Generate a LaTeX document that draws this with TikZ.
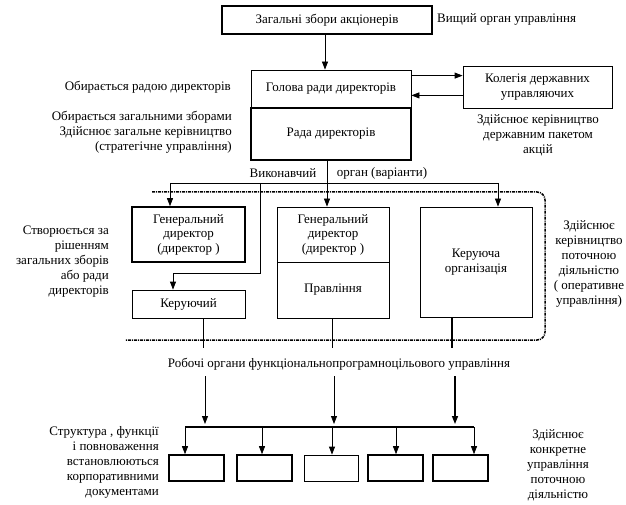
\documentclass[tikz,border=0pt]{standalone}
\usepackage{fontspec}
\setmainfont{Liberation Serif}
\usetikzlibrary{arrows.meta}

\begin{document}
\begin{tikzpicture}[x=1pt,y=-1pt,
	blok/.style={draw, line width=.8pt, inner sep=0pt, align=center, font=\fontsize{13}{14.5}\selectfont},
	tovst/.style={line width=1.6pt},
	napys/.style={inner sep=0pt, font=\fontsize{13}{15}\selectfont},
	str/.style={-{Triangle[length=8pt,width=6pt]}, line width=.8pt},
	ramka/.style={line width=1.5pt, dash pattern=on 3pt off 1pt on 1pt off 1pt, rounded corners=8pt}]
	\useasboundingbox (0,0) rectangle (626,505);
	\node [blok, tovst, minimum width=210pt, minimum height=28pt] (zbory) at (327,20) {Загальні збори акціонерів};
	\node [blok, minimum width=160pt, minimum height=38pt] (holova) at (331,89) {Голова ради директорів};
	\node [blok, tovst, minimum width=160pt, minimum height=52pt] (rada) at (331,134) {Рада директорів};
	\node [blok, minimum width=149pt, minimum height=42pt] (kolegiia) at (537.5,87) {Колегія державних\\управляючих};
	\node [blok, tovst, minimum width=113pt, minimum height=55pt] (gendyr) at (188.5,234.5) {Генеральний\\директор\\(директор )};
	\node [blok, minimum width=113pt, minimum height=28pt] (keruiuchyi) at (188.5,304) {Керуючий};
	\node [blok, minimum width=112pt, minimum height=55pt] (gendyr2) at (333,234.5) {Генеральний\\директор\\(директор )};
	\node [blok, minimum width=112pt, minimum height=56pt] (pravlinnia) at (333,290) {Правління};
	\node [blok, minimum width=112pt, minimum height=110pt] (kerorg) at (476,262) {Керуюча\\організація};
	\node [blok, tovst, minimum width=55pt, minimum height=26pt] (b1) at (196.5,468) {};
	\node [blok, tovst, minimum width=55pt, minimum height=26pt] (b2) at (264.5,468) {};
	\node [blok, minimum width=54pt, minimum height=26pt] (b3) at (331,468) {};
	\node [blok, tovst, minimum width=55pt, minimum height=26pt] (b4) at (395.5,468) {};
	\node [blok, tovst, minimum width=55pt, minimum height=26pt] (b5) at (460.5,468) {};

	\node [napys, anchor=west] (vyshchyi) at (437,19) {Вищий орган управління};
	\node [napys, anchor=east] (obyraietsia) at (231,87) {Обирається радою директорів};
	\node [napys, anchor=east, align=right] (zahalne) at (232,132) {Обирається загальними зборами\\Здійснює загальне керівництво\\(стратегічне управління)};
	\node [napys, align=center] (paket) at (538,135) {Здійснює керівництво\\державним пакетом\\акцій};
	\node [napys] (vykonavchyi) at (283,173) {Виконавчий};
	\node [napys] (orhan) at (382,173) {орган (варіанти)};
	\node [napys, anchor=east, align=right] (stvoriuietsia) at (109,262) {Створюється за\\рішенням\\загальних зборів\\або ради\\директорів};
	\node [napys, align=center] (potochne) at (589,264) {Здійснює\\керівництво\\поточною\\діяльністю\\( оперативне\\управління)};
	\node [napys] (robochi) at (339,364) {Робочі органи функціональнопрограмноцільового управління};
	\node [napys, anchor=east, align=right] (struktura) at (159,462) {Структура , функції\\і повноваження\\встановлюються\\корпоративними\\документами};
	\node [napys, align=center] (konkretne) at (558,465) {Здійснює\\конкретне\\управління\\поточною\\діяльністю};

	\draw [ramka] (152,192) -- (545,192) -- (545,340) -- (125,340);

	\coordinate (vuzol) at (327,183);
	\coordinate (liv) at (170,183);
	\coordinate (prav) at (498,183);
	\coordinate (vidh) at (260,183);
	\coordinate (povorot) at (173,273);
	\draw [str] (zbory.south -| 325,0) -- (holova.north -| 325,0);
	\draw [str] ([yshift=-6pt]holova.north east) -- ([yshift=-6pt]holova.north east -| kolegiia.west);
	\draw [str] ([yshift=13pt]kolegiia.south west) -- ([yshift=13pt]kolegiia.south west -| holova.east);
	\draw [str] (rada.south -| vuzol) -- (gendyr2.north -| vuzol);
	\draw (liv) -- (prav);
	\draw [str] (liv) -- (liv |- gendyr.north);
	\draw [str] (prav) -- (prav |- kerorg.north);
	\draw [str] (vidh) |- (povorot) -- (povorot |- keruiuchyi.north);
	\draw (keruiuchyi.south -| 203,0) -- (203,348);
	\draw (pravlinnia.south -| 332,0) -- (332,348);
	\draw [line width=1.4pt] (kerorg.south -| 452,0) -- (452,348);

	\draw [str] (205,376) -- (205,424);
	\draw [str] (334,376) -- (334,424);
	\draw [str, line width=1.4pt] (455,376) -- (455,424);
	\draw [line width=1.6pt] (185,427) -- (474,427);
	\foreach \x/\b in {185/b1, 262/b2, 332/b3, 396/b4, 474/b5}
		\draw [str] (\x,427) -- (\b.north -| \x,0);
\end{tikzpicture}
\end{document}
